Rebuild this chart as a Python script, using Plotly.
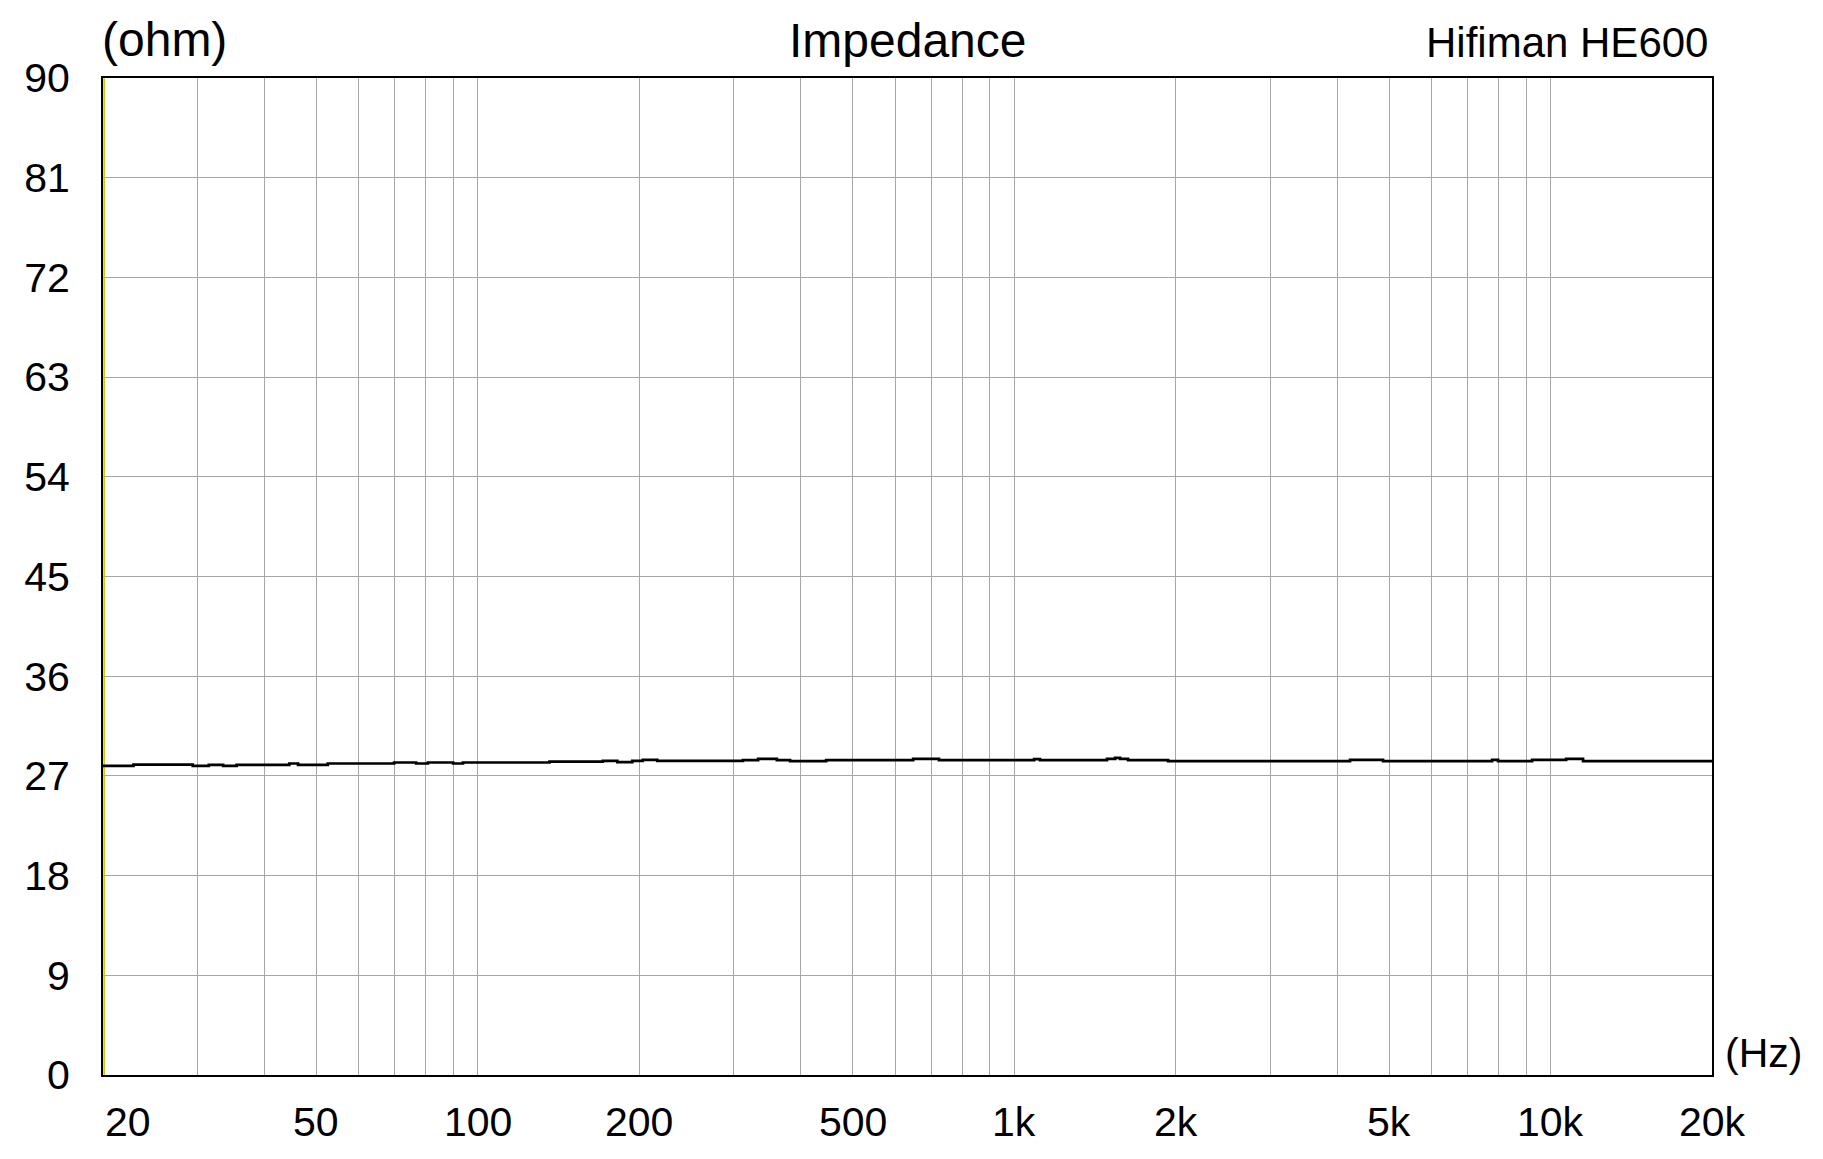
import math
import plotly.graph_objects as go

# Impedance curve (step-like), frequency in Hz, impedance in ohm
freq_hz = [20, 22.8, 29.4, 31.5, 33.5, 35.5, 44.5, 46.2, 52.5, 69.8, 76.7, 80.7, 89.9, 93.8,
           136, 171, 182, 194, 203, 216, 312, 333, 361, 382, 446, 648, 724, 1089, 1117,
           1489, 1542, 1575, 1630, 1936, 4228, 4872, 7780, 7982, 9238, 10692, 11498, 20000]
impedance_ohm = [27.91, 28.02, 27.91, 28.0, 27.91, 28.0, 28.12, 28.0, 28.12, 28.21, 28.12, 28.21, 28.12, 28.21,
                 28.28, 28.36, 28.24, 28.36, 28.45, 28.36, 28.42, 28.54, 28.42, 28.33, 28.42, 28.54, 28.42, 28.51, 28.42,
                 28.54, 28.63, 28.54, 28.42, 28.33, 28.45, 28.33, 28.45, 28.33, 28.45, 28.54, 28.33, 28.33]

# second (yellow) trace hugging the left edge
yellow_x = [20.1, 20.1]
yellow_y = [0, 90]

x_grid = [20, 30, 40, 50, 60, 70, 80, 90, 100, 200, 300, 400, 500, 600, 700, 800, 900,
          1000, 2000, 3000, 4000, 5000, 6000, 7000, 8000, 9000, 10000, 20000]
x_label_vals = [20, 50, 100, 200, 500, 1000, 2000, 5000, 10000, 20000]
x_label_text = ["20", "50", "100", "200", "500", "1k", "2k", "5k", "10k", "20k"]
y_ticks = [0, 9, 18, 27, 36, 45, 54, 63, 72, 81, 90]

FONT = "Liberation Sans, Arial, sans-serif"
X_MIN, X_MAX = 20, 20000

fig = go.Figure()
fig.add_trace(go.Scatter(x=yellow_x, y=yellow_y, mode="lines",
                         line=dict(color="#d9c400", width=1.6), hoverinfo="skip"))
fig.add_trace(go.Scatter(x=freq_hz, y=impedance_ohm, mode="lines",
                         line=dict(color="black", width=2.7, shape="hv")))

annotations = []
for v, t in zip(x_label_vals, x_label_text):
    annotations.append(dict(x=math.log10(v) + (1e-6 if v == X_MIN else 0) - (1e-6 if v == X_MAX else 0),
                            y=-0.047, xref="x", yref="paper", text=t, showarrow=False,
                            xanchor="left" if v == X_MIN else "center", yanchor="middle",
                            font=dict(family=FONT, size=41, color="black")))
annotations += [
    dict(x=0, y=1.039, xref="paper", yref="paper", text="(ohm)", showarrow=False,
         xanchor="left", yanchor="middle", xshift=-3, font=dict(family=FONT, size=48, color="black")),
    dict(x=0.5, y=1.038, xref="paper", yref="paper", text="Impedance", showarrow=False,
         xanchor="center", yanchor="middle", font=dict(family=FONT, size=48, color="black")),
    dict(x=0.999, y=1.036, xref="paper", yref="paper", text="Hifiman HE600", showarrow=False,
         xanchor="right", yanchor="middle", font=dict(family=FONT, size=42, color="black")),
    dict(x=1.0068, y=0.022, xref="paper", yref="paper", text="(Hz)", showarrow=False,
         xanchor="left", yanchor="middle", font=dict(family=FONT, size=41, color="black")),
]

# page body has an 8px margin, so the figure is sized and placed to compensate
fig.update_layout(
    width=1815, height=1151,
    margin=dict(l=95, r=111, t=70, b=84),
    paper_bgcolor="white", plot_bgcolor="white",
    showlegend=False,
    annotations=annotations,
    xaxis=dict(type="log", range=[math.log10(X_MIN), math.log10(X_MAX)], tickvals=x_grid,
               showticklabels=False,
               showgrid=True, gridcolor="#a6a6a6", gridwidth=1, zeroline=False,
               showline=True, linecolor="black", linewidth=2, mirror=True, ticks=""),
    yaxis=dict(range=[0, 90], tickvals=y_ticks, ticktext=[str(v) for v in y_ticks],
               showgrid=True, gridcolor="#a6a6a6", gridwidth=1, zeroline=False,
               showline=True, linecolor="black", linewidth=2, mirror=True, ticks="",
               ticklabelstandoff=23,
               tickfont=dict(family=FONT, size=41, color="black")),
)

fig.write_html("out.html")
